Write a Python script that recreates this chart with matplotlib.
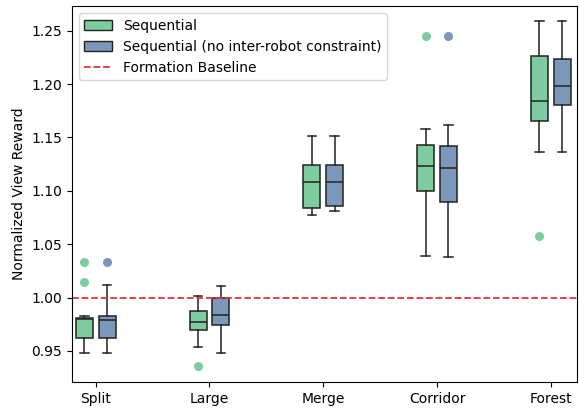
import numpy as np
import matplotlib.pyplot as plt

scenes = ["Split", "Large", "Merge", "Corridor", "Forest"]

# box stats: whislo, q1, med, q3, whishi
seq_lo  = [0.948, 0.954, 1.077, 1.039, 1.136]
seq_q1  = [0.962, 0.970, 1.084, 1.100, 1.165]
seq_med = [0.980, 0.9775, 1.1085, 1.1235, 1.1845]
seq_q3  = [0.981, 0.9875, 1.1245, 1.1426, 1.2264]
seq_hi  = [0.983, 1.001, 1.1517, 1.1582, 1.2587]
seq_fl  = [[1.033, 1.0144], [0.9355], [], [1.2448], [1.0575]]

nc_lo  = [0.948, 0.948, 1.0813, 1.0382, 1.136]
nc_q1  = [0.962, 0.9747, 1.086, 1.0898, 1.1801]
nc_med = [0.979, 0.9838, 1.1085, 1.121, 1.1986]
nc_q3  = [0.983, 0.9993, 1.1245, 1.1417, 1.2239]
nc_hi  = [1.012, 1.0106, 1.1517, 1.162, 1.2587]
nc_fl  = [[1.033], [], [], [1.2448], []]

green = "#7dcb9f"
blue = "#7b98bb"

def make_stats(lo, q1, med, q3, hi, fl):
    out = []
    for i in range(len(lo)):
        out.append(dict(whislo=lo[i], q1=q1[i], med=med[i], q3=q3[i],
                        whishi=hi[i], fliers=fl[i]))
    return out

fig = plt.figure(figsize=(5.79, 4.08), dpi=100)
ax = fig.add_axes([0.124, 0.064, 0.8725, 0.921])

x = np.arange(len(scenes))
for stats, off, col in [(make_stats(seq_lo, seq_q1, seq_med, seq_q3, seq_hi, seq_fl), -0.1, green),
                        (make_stats(nc_lo, nc_q1, nc_med, nc_q3, nc_hi, nc_fl), 0.1, blue)]:
    ax.bxp(stats, positions=x + off, widths=0.15, patch_artist=True,
           boxprops=dict(facecolor=col, edgecolor="#222222", linewidth=1.1),
           medianprops=dict(color="#222222", linewidth=1.1),
           whiskerprops=dict(color="#222222", linewidth=1.1),
           capprops=dict(color="#222222", linewidth=1.1),
           flierprops=dict(marker="o", markerfacecolor=col, markeredgecolor="none",
                           markersize=6.5))

ax.axhline(1.0, color="#e8323c", linestyle="--", linewidth=1.3)

from matplotlib.patches import Patch
from matplotlib.lines import Line2D
handles = [Patch(facecolor=green, edgecolor="#222222", label="Sequential"),
           Patch(facecolor=blue, edgecolor="#222222", label="Sequential (no inter-robot constraint)"),
           Line2D([], [], color="#e8323c", linestyle="--", linewidth=1.3, label="Formation Baseline")]
ax.legend(handles=handles, loc="upper left", fontsize=10)

ax.set_xticks(x)
ax.set_xticklabels(scenes)
ax.set_xlim(-0.21, 4.23)
ax.set_ylim(0.921, 1.273)
ax.set_yticks([0.95, 1.00, 1.05, 1.10, 1.15, 1.20, 1.25])
ax.set_ylabel("Normalized View Reward")
fig.savefig("out.png", dpi=100)
